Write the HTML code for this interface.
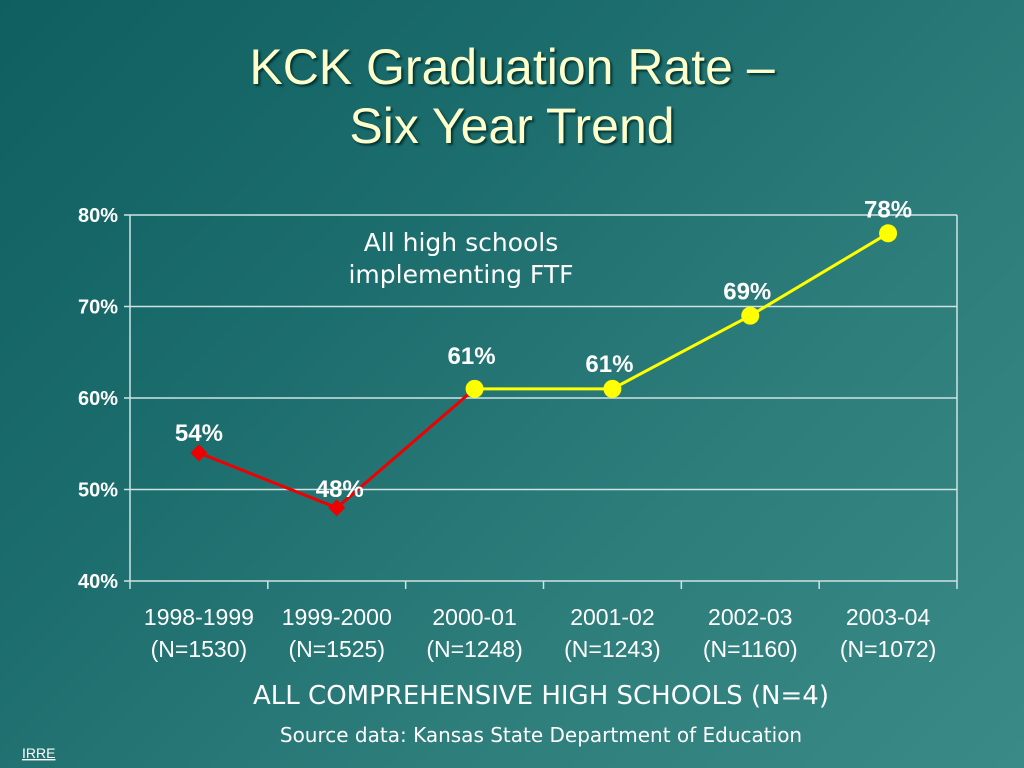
<!DOCTYPE html>
<html><head><meta charset="utf-8"><style>
body{margin:0;width:1024px;height:768px;overflow:hidden;font-family:"Liberation Sans",sans-serif;}
#bg{position:absolute;left:0;top:0;width:1024px;height:768px;background:linear-gradient(135deg,#0f5f60 0%,#1c6d6d 35%,#2d7d7b 65%,#3a8a88 100%);}
.t{position:absolute;left:0;width:1024px;text-align:center;color:#ffffcc;font-size:50px;line-height:58px;text-shadow:2px 2px 2px #033;}
</style></head><body>
<div id="bg"></div>
<div class="t" style="top:38px">KCK Graduation Rate –</div>
<div class="t" style="top:97px">Six Year Trend</div>
<svg id="chart" width="1024" height="768" style="position:absolute;left:0;top:0"></svg>
<script>
const categories=["1998-1999","1999-2000","2000-01","2001-02","2002-03","2003-04"];
const counts=["(N=1530)","(N=1525)","(N=1248)","(N=1243)","(N=1160)","(N=1072)"];
const values=[54,48,61,61,69,78];
const yTicks=[40,50,60,70,80];
const redUntil=2;
const svg=document.getElementById('chart');const NS='http://www.w3.org/2000/svg';
const L=130,R=957,T=215,B=581,ymin=40,ymax=80;
const bw=(R-L)/categories.length;
const x=i=>L+bw*(i+0.5);const y=v=>B-(v-ymin)/(ymax-ymin)*(B-T);
function mk(t,a,txt){const e=document.createElementNS(NS,t);for(const k in a)e.setAttribute(k,a[k]);if(txt!==undefined)e.textContent=txt;svg.appendChild(e);return e;}
yTicks.forEach(v=>{const l=mk('line',{x1:L-6,x2:R,y1:y(v),y2:y(v),stroke:'#cfe3e3','stroke-width':1.5});

const t=mk('text',{x:L-12,y:y(v)+7,'text-anchor':'end',fill:'#fff','font-size':20,'font-weight':'bold'},v+'%');
});
let ax=mk('line',{x1:L,x2:L,y1:T,y2:B,stroke:'#cfe3e3','stroke-width':1.5});
let ax2=mk('line',{x1:R,x2:R,y1:T,y2:B,stroke:'#cfe3e3','stroke-width':1.5});
for(let i=0;i<=categories.length;i++){const tk=mk('line',{x1:L+bw*i,x2:L+bw*i,y1:B,y2:B+8,stroke:'#cfe3e3','stroke-width':1.5});}
categories.forEach((c,i)=>{const t=mk('text',{x:x(i),y:625,'text-anchor':'middle',fill:'#fff','font-size':23},c);
const n=mk('text',{x:x(i),y:657,'text-anchor':'middle',fill:'#fff','font-size':23},counts[i]);});
const red=mk('polyline',{points:values.slice(0,redUntil+1).map((v,i)=>x(i)+','+y(v)).join(' '),fill:'none',stroke:'#e00','stroke-width':3});
const yel=mk('polyline',{points:values.slice(redUntil).map((v,i)=>x(i+redUntil)+','+y(v)).join(' '),fill:'none',stroke:'#ffff00','stroke-width':3});
const lblDx=[0,3,-3,-3,-3,0],lblDy=[-12,-11,-25,-17,-16,-16];
values.forEach((v,i)=>{let m;if(i<redUntil){m=mk('rect',{x:x(i)-6,y:y(v)-6,width:12,height:12,fill:'#e00',transform:`rotate(45 ${x(i)} ${y(v)})`});}
else{m=mk('circle',{cx:x(i),cy:y(v),r:9,fill:'#ffff00'});}

const t=mk('text',{x:x(i)+lblDx[i],y:y(v)+lblDy[i],'text-anchor':'middle',fill:'#fff','font-size':24,'font-weight':'bold'},v+'%');});
[['All high schools',251],['implementing FTF',283]].forEach((a,i)=>{const t=mk('text',{x:461,y:a[1],'text-anchor':'middle',fill:'#fff','font-size':25,'font-family':'DejaVu Sans, sans-serif'},a[0]);});
let xt=mk('text',{x:541,y:704,'text-anchor':'middle',fill:'#fff','font-size':26,'font-family':'DejaVu Sans, sans-serif'},'ALL COMPREHENSIVE HIGH SCHOOLS (N=4)');
let src=mk('text',{x:541,y:742,'text-anchor':'middle',fill:'#fff','font-size':20,'font-family':'DejaVu Sans, sans-serif'},'Source data: Kansas State Department of Education');
let ir=mk('text',{x:22,y:758,fill:'#fff','font-size':14,'text-decoration':'underline'},'IRRE');
</script>
</body></html>
